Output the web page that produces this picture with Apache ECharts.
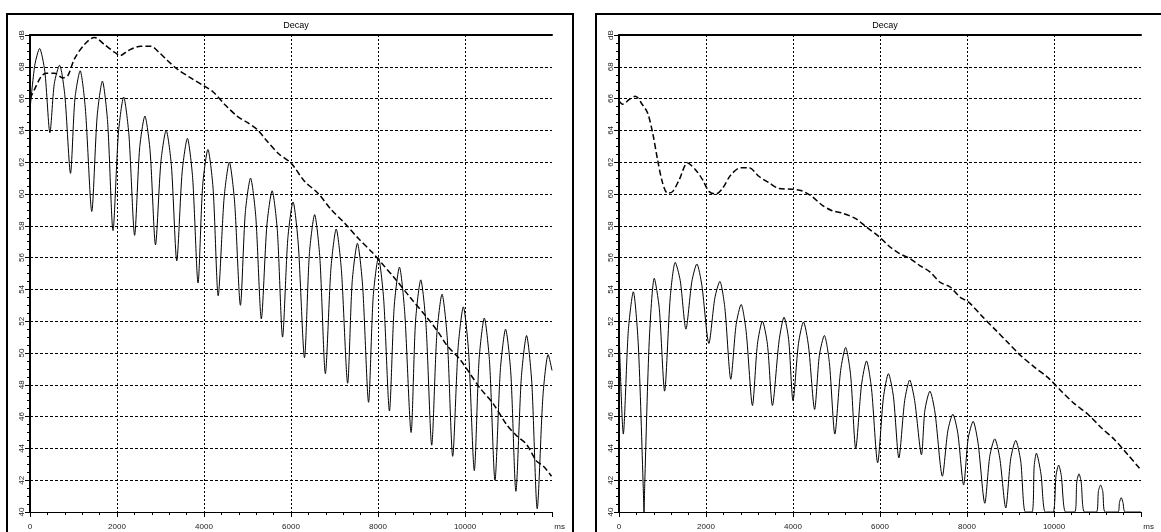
<!DOCTYPE html>
<html>
<head>
<meta charset="utf-8">
<title>Decay</title>
<script src="https://cdn.jsdelivr.net/npm/echarts@6/dist/echarts.min.js"></script>
<style>
  html, body { margin: 0; padding: 0; background: #fff; }
  #chart { width: 1161px; height: 532px; }
</style>
</head>
<body>
<div id="chart"></div>
<script>
// left panel, solid trace (ms / dB) - troughs, peak shoulders and peaks
const leftDecayMs = [0, 110, 221, 341, 458, 559, 679, 799, 931, 1033, 1153, 1273, 1420, 1544, 1664, 1784, 1908, 2033, 2153, 2273, 2405, 2521, 2641, 2761, 2885, 3010, 3130, 3250, 3374, 3498, 3618, 3738, 3863, 3970, 4090, 4210, 4326, 4462, 4582, 4702, 4837, 4950, 5070, 5190, 5318, 5446, 5566, 5686, 5806, 5927, 6047, 6167, 6310, 6423, 6543, 6663, 6790, 6919, 7039, 7159, 7302, 7407, 7527, 7647, 7783, 7890, 8010, 8130, 8263, 8373, 8493, 8613, 8761, 8863, 8983, 9103, 9235, 9352, 9472, 9592, 9717, 9842, 9962, 10082, 10214, 10324, 10444, 10564, 10689, 10813, 10933, 11053, 11170, 11295, 11415, 11535, 11660, 11792, 11912, 12000];
const leftDecayDb = [65.3, 68.1, 69.15, 67.7, 63.85, 66.95, 68.1, 66.25, 61.3, 66.0, 67.75, 65.35, 58.9, 64.9, 67.1, 64.55, 57.7, 63.85, 66.1, 63.75, 57.4, 62.9, 64.9, 62.7, 56.8, 62.05, 64.0, 61.8, 55.8, 61.4, 63.5, 61.05, 54.4, 60.55, 62.8, 60.3, 53.6, 59.75, 62.0, 59.55, 53.0, 58.85, 61.0, 58.6, 52.15, 58.05, 60.2, 57.7, 51.0, 57.2, 59.5, 56.85, 49.7, 56.25, 58.7, 56.0, 48.7, 55.35, 57.8, 55.2, 48.1, 54.5, 56.9, 54.2, 46.9, 53.55, 56.0, 53.4, 46.35, 52.95, 55.4, 52.6, 45.0, 52.0, 54.6, 51.8, 44.2, 51.15, 53.7, 50.95, 43.5, 50.35, 52.9, 50.1, 42.6, 49.6, 52.2, 49.45, 42.0, 48.95, 51.5, 48.75, 41.3, 48.45, 51.1, 48.15, 40.2, 47.3, 49.9, 48.9];

// left panel, dashed trace
const leftEnvMs = [0, 107, 259, 374, 565, 755, 870, 1022, 1251, 1480, 1709, 1953, 2075, 2243, 2548, 2777, 2968, 3159, 3388, 3693, 3998, 4218, 4489, 4760, 4993, 5225, 5458, 5729, 6000, 6310, 6620, 6930, 7240, 7550, 7860, 8131, 8355, 8738, 9120, 9388, 9579, 9885, 10115, 10344, 10650, 10956, 11186, 11415, 11645, 11798, 11989];
const leftEnvDb = [66.0, 66.6, 67.4, 67.6, 67.6, 67.3, 67.45, 68.5, 69.4, 69.85, 69.4, 68.9, 68.7, 69.0, 69.3, 69.3, 68.9, 68.4, 67.85, 67.3, 66.8, 66.4, 65.6, 64.9, 64.5, 64.05, 63.3, 62.5, 61.95, 60.8, 60.05, 59.0, 58.15, 57.2, 56.35, 55.5, 54.8, 53.5, 52.25, 51.3, 50.5, 49.6, 48.7, 47.8, 46.8, 45.5, 44.8, 44.25, 43.2, 42.9, 42.25];

// right panel, solid trace (40 dB = floor of the display)
const rightDecayMs = [0, 99, 214, 329, 444, 558, 575, 592, 696, 811, 926, 1048, 1178, 1293, 1408, 1538, 1675, 1790, 1905, 2066, 2203, 2318, 2433, 2570, 2693, 2808, 2923, 3068, 3182, 3297, 3412, 3527, 3679, 3794, 3900, 4000, 4126, 4241, 4356, 4497, 4606, 4721, 4836, 4962, 5095, 5210, 5325, 5442, 5575, 5690, 5805, 5946, 6079, 6194, 6309, 6434, 6567, 6682, 6797, 6953, 7032, 7147, 7262, 7434, 7559, 7674, 7789, 7922, 8026, 8141, 8256, 8409, 8523, 8638, 8753, 8891, 9005, 9120, 9235, 9342, 9495, 9545, 9595, 9700, 9801, 9977, 10047, 10107, 10167, 10268, 10474, 10524, 10574, 10624, 10704, 10972, 11021, 11071, 11121, 11178, 11469, 11505, 11545, 11585, 11637, 12000];
const rightDecayDb = [51.5, 44.9, 51.4, 53.85, 50.5, 41.5, 40, 41.8, 50.8, 54.7, 52.8, 47.6, 53.5, 55.7, 54.55, 51.5, 54.5, 55.6, 54.25, 50.6, 53.45, 54.5, 52.85, 48.35, 51.8, 53.05, 51.35, 46.7, 50.55, 52.0, 50.55, 46.7, 50.75, 52.25, 50.85, 47.0, 50.6, 51.95, 50.45, 46.45, 49.85, 51.1, 49.4, 44.9, 48.9, 50.35, 48.6, 44.0, 48.0, 49.5, 47.75, 43.1, 47.2, 48.7, 47.25, 43.4, 47.0, 48.3, 47.0, 43.6, 46.4, 47.6, 46.3, 42.25, 45.1, 46.15, 44.95, 41.7, 44.6, 45.7, 44.3, 40.55, 43.5, 44.6, 43.4, 40.25, 43.35, 44.5, 43.2, 40, 40, 42.9, 43.7, 42.4, 40, 40, 42.3, 42.95, 42.3, 40, 40, 41.9, 42.4, 41.9, 40, 40, 41.3, 41.7, 41.3, 40, 40, 40.6, 40.9, 40.6, 40, 40];

// right panel, dashed trace
const rightEnvMs = [0, 84, 237, 375, 543, 658, 773, 887, 1002, 1117, 1232, 1385, 1576, 1767, 1920, 2073, 2226, 2379, 2570, 2800, 2991, 3221, 3450, 3680, 3986, 4202, 4435, 4667, 4900, 5132, 5442, 5675, 5985, 6217, 6450, 6682, 6915, 7147, 7380, 7612, 7845, 8038, 8332, 8638, 8944, 9250, 9556, 9862, 10168, 10474, 10780, 11086, 11392, 11698, 11966];
const rightEnvDb = [65.85, 65.65, 65.95, 66.15, 65.6, 65.1, 63.85, 62.15, 60.7, 60.05, 60.15, 60.9, 61.95, 61.5, 60.9, 60.15, 60.0, 60.35, 61.2, 61.65, 61.65, 61.1, 60.7, 60.35, 60.3, 60.2, 59.85, 59.3, 58.95, 58.8, 58.45, 57.95, 57.3, 56.7, 56.25, 55.95, 55.5, 55.1, 54.45, 54.15, 53.5, 53.2, 52.35, 51.5, 50.65, 49.8, 49.1, 48.45, 47.6, 46.8, 46.15, 45.3, 44.55, 43.6, 42.75];

const X_TICKS = [0, 2000, 4000, 6000, 8000, 10000, 12000];
const Y_TICKS = [40, 42, 44, 46, 48, 50, 52, 54, 56, 58, 60, 62, 64, 66, 68, 70];

const pairs = (xs, ys) => xs.map((x, i) => [x, ys[i]]);

const FONT = 'Liberation Sans, Arial, sans-serif';
const grids = [
  { left: 30, top: 35, width: 522, height: 477 },
  { left: 619, top: 35, width: 522, height: 477 },
];

const chart = echarts.init(document.getElementById('chart'));

const bottomAxis = (i) => ({
  gridIndex: i,
  type: 'value',
  min: X_TICKS[0],
  max: X_TICKS[X_TICKS.length - 1],
  interval: X_TICKS[1] - X_TICKS[0],
  axisLine: { show: true, lineStyle: { color: '#000', width: 1 } },
  axisTick: { show: true, length: 5, lineStyle: { color: '#000' } },
  minorTick: { show: true, splitNumber: 5, length: 3, lineStyle: { color: '#000' } },
  splitLine: {
    show: true, showMinLine: false, showMaxLine: false,
    lineStyle: { color: '#000', type: [2, 2], width: 1 },
  },
  axisLabel: {
    fontSize: 8, fontFamily: FONT, color: '#222', margin: 11,
    alignMaxLabel: 'left',
    formatter: (v) => (v === 12000 ? ' ms' : String(v)),
  },
});

const topAxis = (i) => ({
  gridIndex: i,
  type: 'value',
  position: 'top',
  min: 0,
  max: 12000,
  axisLine: { show: true, lineStyle: { color: '#000', width: 2 } },
  axisTick: { show: false },
  axisLabel: { show: false },
  splitLine: { show: false },
});

const leftAxis = (i) => ({
  gridIndex: i,
  type: 'value',
  min: Y_TICKS[0],
  max: Y_TICKS[Y_TICKS.length - 1],
  interval: Y_TICKS[1] - Y_TICKS[0],
  axisLine: { show: true, lineStyle: { color: '#000', width: 2 } },
  axisTick: { show: true, length: 5, lineStyle: { color: '#000' } },
  minorTick: { show: true, splitNumber: 4, length: 3, lineStyle: { color: '#000' } },
  splitLine: {
    show: true, showMinLine: false, showMaxLine: false,
    lineStyle: { color: '#000', type: [3, 2], width: 1 },
  },
  axisLabel: {
    fontSize: 8, fontFamily: FONT, color: '#222', margin: 4, rotate: 90,
    formatter: (v) => (v === 70 ? 'dB' : String(v)),
  },
});

const solid = (i, data) => ({
  type: 'line', xAxisIndex: i, yAxisIndex: i, data,
  showSymbol: false, smooth: 0.25,
  lineStyle: { color: '#000', width: 1 },
  silent: true,
});

const dashed = (i, data) => ({
  type: 'line', xAxisIndex: i, yAxisIndex: i, data,
  showSymbol: false, smooth: 0.3,
  lineStyle: { color: '#000', width: 1.5, type: [6, 3] },
  silent: true,
});

chart.setOption({
  animation: false,
  title: [
    { text: 'Decay', left: 291, top: 16, textAlign: 'center',
      textStyle: { fontSize: 9, fontWeight: 'normal', fontFamily: FONT, color: '#000' } },
    { text: 'Decay', left: 880, top: 16, textAlign: 'center',
      textStyle: { fontSize: 9, fontWeight: 'normal', fontFamily: FONT, color: '#000' } },
  ],
  graphic: [
    { type: 'rect', shape: { x: 7, y: 14, width: 566, height: 530 },
      style: { fill: 'none', stroke: '#000', lineWidth: 2 } },
    { type: 'rect', shape: { x: 596, y: 14, width: 580, height: 530 },
      style: { fill: 'none', stroke: '#000', lineWidth: 2 } },
  ],
  grid: grids,
  xAxis: [bottomAxis(0), bottomAxis(1), topAxis(0), topAxis(1)],
  yAxis: [leftAxis(0), leftAxis(1)],
  series: [
    solid(0, pairs(leftDecayMs, leftDecayDb)),
    dashed(0, pairs(leftEnvMs, leftEnvDb)),
    solid(1, pairs(rightDecayMs, rightDecayDb)),
    dashed(1, pairs(rightEnvMs, rightEnvDb)),
  ],
});

window.addEventListener('resize', () => chart.resize());
</script>
</body>
</html>
